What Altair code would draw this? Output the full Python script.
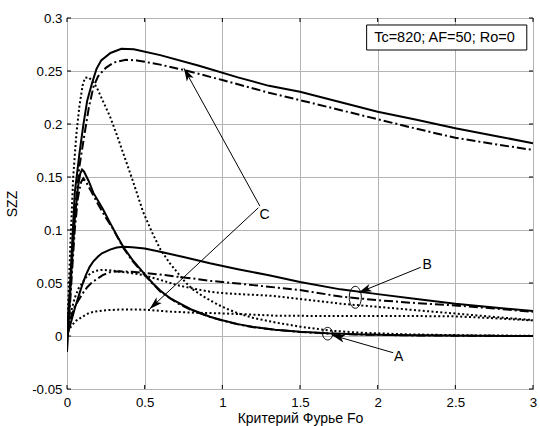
import math
import altair as alt
import pandas as pd

# ---------------- layout constants (plot area) ----------------
W, H = 466, 371
X_DOMAIN = [0, 3]
Y_DOMAIN = [-0.05, 0.3]
FONT = "Liberation Sans"

x_ticks = [0, 0.5, 1, 1.5, 2, 2.5, 3]
y_ticks = [-0.05, 0, 0.05, 0.1, 0.15, 0.2, 0.25, 0.3]

# ---------------- curves ----------------
# upper group
s1_x = [0, 0.02, 0.05, 0.08, 0.105, 0.13, 0.16, 0.19, 0.22, 0.28, 0.35, 0.43, 0.6, 0.85, 1.1, 1.3, 1.5, 1.75, 2.0, 2.25, 2.5, 2.75, 3.0]
s1_y = [0, 0.05, 0.135, 0.172, 0.199, 0.222, 0.238, 0.252, 0.26, 0.267, 0.271, 0.2705, 0.265, 0.255, 0.244, 0.236, 0.2305, 0.221, 0.2116, 0.204, 0.196, 0.189, 0.1818]

dd1_x = [0, 0.02, 0.05, 0.08, 0.11, 0.14, 0.17, 0.2, 0.25, 0.3, 0.38, 0.45, 0.6, 0.75, 1.0, 1.3, 1.5, 1.75, 2.0, 2.25, 2.5, 2.75, 3.0]
dd1_y = [0, 0.04, 0.115, 0.16, 0.188, 0.215, 0.235, 0.245, 0.253, 0.258, 0.2605, 0.26, 0.256, 0.251, 0.2415, 0.2295, 0.2225, 0.2135, 0.2045, 0.1955, 0.187, 0.181, 0.1755]

d1_x = [0, 0.02, 0.04, 0.06, 0.08, 0.1, 0.115, 0.14, 0.16, 0.19, 0.23, 0.277, 0.32, 0.363, 0.427, 0.49, 0.55, 0.6, 0.66, 0.71, 0.76, 0.81, 0.87, 0.93, 0.98, 1.04, 1.1, 1.2, 1.34, 1.5, 1.7, 1.9, 2.2, 2.6, 3.0]
d1_y = [0, 0.08, 0.15, 0.19, 0.217, 0.236, 0.2435, 0.244, 0.241, 0.235, 0.222, 0.207, 0.19, 0.172, 0.145, 0.117, 0.097, 0.082, 0.069, 0.06, 0.051, 0.044, 0.038, 0.033, 0.029, 0.025, 0.0215, 0.017, 0.0128, 0.0088, 0.005, 0.003, 0.0015, 0.0006, 0.0002]

# middle group (A)
s2_x = [0, 0.01, 0.03, 0.05, 0.07, 0.085, 0.097, 0.11, 0.14, 0.17, 0.23, 0.28, 0.32, 0.363, 0.42, 0.49, 0.55, 0.6, 0.66, 0.71, 0.8, 0.92, 1.0, 1.1, 1.2, 1.34, 1.5, 1.68, 1.9, 2.2, 2.6, 3.0]
s2_y = [-0.015, 0.01, 0.065, 0.11, 0.14, 0.153, 0.157, 0.155, 0.146, 0.135, 0.12, 0.106, 0.095, 0.084, 0.072, 0.06, 0.05, 0.043, 0.036, 0.032, 0.025, 0.0182, 0.0148, 0.0112, 0.0085, 0.006, 0.004, 0.0025, 0.0014, 0.0007, 0.0002, 0.0]

dd2_x = [0, 0.01, 0.03, 0.05, 0.07, 0.09, 0.105, 0.12, 0.15, 0.19, 0.24, 0.3, 0.363, 0.42, 0.49, 0.6, 0.71, 0.8, 0.92, 1.0, 1.1, 1.2, 1.34, 1.5, 1.68, 1.9, 2.2, 2.6, 3.0]
dd2_y = [0, 0.008, 0.055, 0.1, 0.13, 0.145, 0.1488, 0.146, 0.138, 0.127, 0.114, 0.1, 0.083, 0.071, 0.059, 0.042, 0.031, 0.0245, 0.018, 0.0145, 0.011, 0.0083, 0.0058, 0.0038, 0.0023, 0.0013, 0.0006, 0.0002, 0.0]

# lower group (B)
s3_x = [0, 0.02, 0.05, 0.08, 0.1, 0.12, 0.145, 0.17, 0.2, 0.225, 0.277, 0.32, 0.363, 0.42, 0.5, 0.6, 0.75, 0.92, 1.1, 1.3, 1.5, 1.76, 2.0, 2.25, 2.5, 2.75, 3.0]
s3_y = [0, 0.01, 0.026, 0.04, 0.049, 0.057, 0.065, 0.0705, 0.075, 0.078, 0.0815, 0.0835, 0.0842, 0.0838, 0.0825, 0.0795, 0.0745, 0.0686, 0.063, 0.0573, 0.051, 0.044, 0.0395, 0.035, 0.0305, 0.027, 0.0235]

dd3_x = [0, 0.01, 0.03, 0.05, 0.075, 0.1, 0.13, 0.16, 0.19, 0.23, 0.277, 0.34, 0.42, 0.49, 0.6, 0.706, 0.8, 0.92, 1.0, 1.2, 1.5, 1.76, 2.0, 2.25, 2.5, 2.75, 3.0]
dd3_y = [0, 0.008, 0.02, 0.028, 0.034, 0.04, 0.046, 0.0505, 0.0535, 0.0575, 0.0602, 0.061, 0.0605, 0.0595, 0.058, 0.056, 0.0545, 0.052, 0.051, 0.048, 0.0434, 0.0372, 0.0338, 0.031, 0.0288, 0.026, 0.0228]

d3_x = [0, 0.01, 0.03, 0.05, 0.075, 0.097, 0.12, 0.15, 0.182, 0.22, 0.27, 0.343, 0.42, 0.49, 0.6, 0.706, 0.82, 0.92, 1.0, 1.15, 1.31, 1.5, 1.76, 2.0, 2.25, 2.5, 2.75, 3.0]
d3_y = [0, 0.01, 0.025, 0.036, 0.045, 0.0497, 0.055, 0.059, 0.0615, 0.0623, 0.062, 0.0607, 0.0592, 0.0575, 0.053, 0.0481, 0.0445, 0.0418, 0.0405, 0.0392, 0.038, 0.035, 0.0305, 0.0275, 0.0243, 0.0212, 0.018, 0.015]

d4_x = [0, 0.01, 0.03, 0.06, 0.097, 0.14, 0.182, 0.25, 0.343, 0.45, 0.534, 0.663, 0.82, 0.985, 1.18, 1.34, 1.5, 1.76, 2.0, 2.25, 2.5, 2.75, 3.0]
d4_y = [0, 0.005, 0.01, 0.0145, 0.018, 0.0215, 0.0232, 0.0243, 0.025, 0.025, 0.0245, 0.023, 0.022, 0.0214, 0.0203, 0.0192, 0.019, 0.0189, 0.0189, 0.0188, 0.0185, 0.0168, 0.0147]

series = [
    ("s1", "solid", s1_x, s1_y),
    ("dd1", "dashdot", dd1_x, dd1_y),
    ("d1", "dotted", d1_x, d1_y),
    ("s2", "solid", s2_x, s2_y),
    ("dd2", "dashdot", dd2_x, dd2_y),
    ("s3", "solid", s3_x, s3_y),
    ("dd3", "dashdot", dd3_x, dd3_y),
    ("d3", "dotted", d3_x, d3_y),
    ("d4", "dotted", d4_x, d4_y),
]

# ---------------- annotations ----------------
legend_text = "Tc=820; AF=50; Ro=0"
legend_box_x = [1.929, 2.96]
legend_box_y = [0.2698, 0.2934]
legend_text_pos = [2.43, 0.2813]

arrow_x_tail = [1.242, 1.232, 2.277, 2.10]
arrow_y_tail = [0.1225, 0.121, 0.0648, -0.0158]
arrow_x_head = [0.753, 0.532, 1.878, 1.705]
arrow_y_head = [0.2525, 0.0255, 0.0410, 0.0009]

label_text = ["C", "B", "A"]
label_x = [1.272, 2.318, 2.135]
label_y = [0.1145, 0.067, -0.0195]

ellipse_a = [1.678, 0.0022]
ellipse_b = [1.856, 0.0365]

# ---------------- build tables ----------------
rows = []
for name, style, xs, ys in series:
    for xv, yv in zip(xs, ys):
        rows.append({"series": name, "style": style, "x": xv, "y": yv})
curves = pd.DataFrame(rows)

sx = W / (X_DOMAIN[1] - X_DOMAIN[0])
sy = H / (Y_DOMAIN[1] - Y_DOMAIN[0])
arrows = pd.DataFrame({"xt": arrow_x_tail, "yt": arrow_y_tail, "xh": arrow_x_head, "yh": arrow_y_head})
arrows["angle"] = [
    math.degrees(math.atan2((xh - xt) * sx, (yh - yt) * sy)) % 360
    for xt, yt, xh, yh in zip(arrow_x_tail, arrow_y_tail, arrow_x_head, arrow_y_head)
]
labels = pd.DataFrame({"text": label_text, "x": label_x, "y": label_y})
legend_box = pd.DataFrame({"x": [legend_box_x[0]], "x2": [legend_box_x[1]], "y": [legend_box_y[0]], "y2": [legend_box_y[1]]})
legend_lbl = pd.DataFrame({"x": [legend_text_pos[0]], "y": [legend_text_pos[1]], "text": [legend_text]})
ell_a_df = pd.DataFrame({"x": [ellipse_a[0]], "y": [ellipse_a[1]]})
ell_b_df = pd.DataFrame({"x": [ellipse_b[0]], "y": [ellipse_b[1]]})
xt_df = pd.DataFrame({"t": x_ticks})
yt_df = pd.DataFrame({"t": y_ticks})

LABEL_EXPR = "datum.value < 0 ? '-' + format(-datum.value, '~g') : format(datum.value, '~g')"
AX_X = alt.Axis(values=x_ticks, title="Критерий Фурье Fo", labelExpr=LABEL_EXPR, grid=True,
                tickSize=0, domain=False, labelFlush=False, labelOverlap=False, labelPadding=6,
                titlePadding=3)
AX_Y = alt.Axis(values=y_ticks, title="SZZ", labelExpr=LABEL_EXPR, grid=True,
                tickSize=0, domain=False, labelFlush=False, labelOverlap=False, labelPadding=5,
                titlePadding=12)
SX = alt.Scale(domain=X_DOMAIN, nice=False, zero=False)
SY = alt.Scale(domain=Y_DOMAIN, nice=False, zero=False)


def X(f):
    return alt.X(f, type="quantitative", scale=SX, axis=AX_X)


def Y(f):
    return alt.Y(f, type="quantitative", scale=SY, axis=AX_Y)


def curve_layer(style, dash):
    kw = dict(color="black", strokeWidth=2, clip=True)
    if dash:
        kw["strokeDash"] = dash
    return alt.Chart(curves).transform_filter(alt.datum.style == style).mark_line(**kw).encode(
        x=X("x"), y=Y("y"), detail="series:N", order="x:Q"
    )


solid = curve_layer("solid", None)
dashdot = curve_layer("dashdot", [9, 3, 2, 3])
dotted = curve_layer("dotted", [2, 2.4])

box = alt.Chart(legend_box).mark_rect(fill="white", stroke="black", strokeWidth=1).encode(
    x=X("x"), x2="x2", y=Y("y"), y2="y2"
)
box_text = alt.Chart(legend_lbl).mark_text(font=FONT, fontSize=14.5, color="black").encode(
    x=X("x"), y=Y("y"), text="text:N"
)

arrow_lines = alt.Chart(arrows).mark_rule(color="black", strokeWidth=1).encode(
    x=X("xt"), y=Y("yt"), x2="xh", y2="yh"
)
HEAD = "M0,0 L0.6,2 L0,1.5 L-0.6,2 Z"
arrow_heads = alt.Chart(arrows).mark_point(shape=HEAD, filled=True, color="black", size=169, opacity=1, strokeWidth=0).encode(
    x=X("xh"), y=Y("yh"), angle=alt.Angle("angle:Q", scale=None)
)


def ellipse_path(a):
    k = 0.5523
    return (f"M0,-1 C{k*a:.4f},-1 {a:.4f},-{k} {a:.4f},0 C{a:.4f},{k} {k*a:.4f},1 0,1 "
            f"C-{k*a:.4f},1 -{a:.4f},{k} -{a:.4f},0 C-{a:.4f},-{k} -{k*a:.4f},-1 0,-1 Z")


ell_a = alt.Chart(ell_a_df).mark_point(shape=ellipse_path(0.8), filled=False, color="black", size=(2 * 6.3) ** 2,
                                       strokeWidth=1, opacity=1).encode(x=X("x"), y=Y("y"))
ell_b = alt.Chart(ell_b_df).mark_point(shape=ellipse_path(0.55), filled=False, color="black", size=(2 * 11) ** 2,
                                       strokeWidth=1, opacity=1).encode(x=X("x"), y=Y("y"))

label_marks = alt.Chart(labels).mark_text(font=FONT, fontSize=14, color="black").encode(
    x=X("x"), y=Y("y"), text="text:N"
)

TL = 4
tick_bottom = alt.Chart(xt_df).mark_tick(orient="vertical", size=TL, thickness=1, color="black", yOffset=-TL / 2, opacity=1).encode(
    x=X("t"), y=alt.value(H))
tick_top = alt.Chart(xt_df).mark_tick(orient="vertical", size=TL, thickness=1, color="black", yOffset=TL / 2, opacity=1).encode(
    x=X("t"), y=alt.value(0))
tick_left = alt.Chart(yt_df).mark_tick(orient="horizontal", size=TL, thickness=1, color="black", xOffset=TL / 2, opacity=1).encode(
    y=Y("t"), x=alt.value(0))
tick_right = alt.Chart(yt_df).mark_tick(orient="horizontal", size=TL, thickness=1, color="black", xOffset=-TL / 2, opacity=1).encode(
    y=Y("t"), x=alt.value(W))

chart = alt.layer(
    dotted, dashdot, solid,
    box, box_text,
    arrow_lines, arrow_heads, ell_a, ell_b, label_marks,
    tick_bottom, tick_top, tick_left, tick_right,
).properties(
    width=W, height=H,
    autosize=alt.AutoSizeParams(type="none"),
    padding={"left": 67, "top": 18, "right": 7, "bottom": 37},
    background="white",
).configure_view(
    stroke="black", strokeWidth=1
).configure_axis(
    gridColor="#b4b4b4", gridWidth=1, gridOpacity=1,
    labelFont=FONT, labelFontSize=13.3, labelColor="black",
    titleFont=FONT, titleFontSize=14, titleFontWeight="normal", titleColor="black",
)

chart.save("out.html", embed_options={"renderer": "svg", "actions": False})
